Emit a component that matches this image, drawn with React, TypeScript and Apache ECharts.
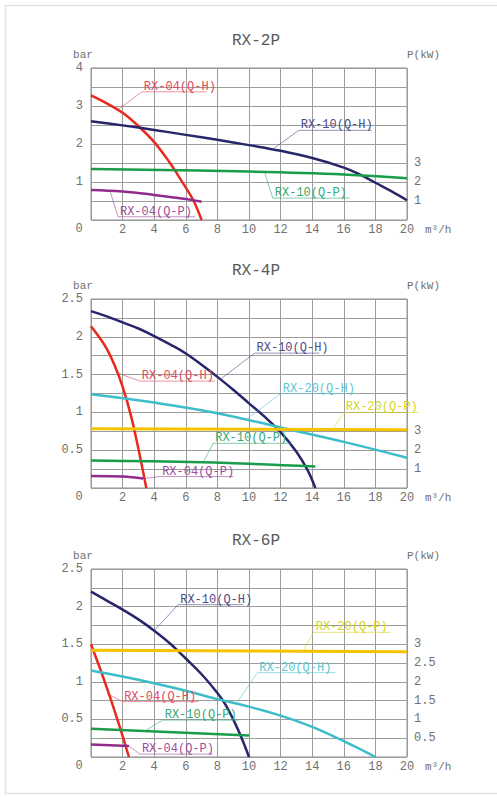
import React, { useEffect, useRef } from "react";
import * as echarts from "echarts";

// ---------- data (x = flow m³/h, Q-H in bar, Q-P in kW) ----------
const TITLES = ["RX-2P", "RX-4P", "RX-6P"];

// RX-2P
const p2_rx04_qh = [[0, 3.28], [1, 3.07], [2, 2.82], [3, 2.47], [4, 2.05], [5, 1.5], [5.5, 1.18], [6, 0.85], [6.5, 0.5], [7, 0]];
const p2_rx10_qh = [[0, 2.6], [2, 2.49], [4, 2.37], [6, 2.24], [8, 2.11], [10, 1.97], [12, 1.82], [14, 1.63], [16, 1.38], [17, 1.2], [18, 0.98], [19, 0.76], [20, 0.52]];
const p2_rx10_qp = [[0, 2.69], [10, 2.55], [16, 2.4], [20, 2.2]];
const p2_rx04_qp = [[0, 1.58], [2, 1.5], [4, 1.32], [6, 1.1], [7, 0.96]];

// RX-4P
const p4_rx10_qh = [[0, 2.34], [1, 2.27], [2, 2.19], [3, 2.11], [4, 2.01], [5, 1.9], [6, 1.78], [7, 1.63], [8, 1.47], [9, 1.3], [10, 1.12], [11, 0.94], [12, 0.74], [13, 0.48], [13.7, 0.24], [14.2, 0]];
const p4_rx04_qh = [[0, 2.14], [0.5, 2.0], [1, 1.84], [1.5, 1.62], [2, 1.34], [2.5, 0.98], [3, 0.52], [3.5, 0]];
const p4_rx20_qh = [[0, 1.24], [4, 1.13], [8, 0.99], [12, 0.8], [16, 0.61], [20, 0.4]];
const p4_rx20_qp = [[0, 3.14], [20, 3.08]];
const p4_rx10_qp = [[0, 1.46], [7, 1.36], [14.2, 1.14]];
const p4_rx04_qp = [[0, 0.64], [2, 0.61], [3.3, 0.5]];

// RX-6P
const p6_rx10_qh = [[0, 2.2], [1, 2.08], [2, 1.96], [3, 1.83], [4, 1.68], [5, 1.51], [6, 1.31], [7, 1.1], [8, 0.85], [8.5, 0.7], [9, 0.5], [9.5, 0.27], [10, 0]];
const p6_rx04_qh = [[0, 1.5], [0.6, 1.16], [1.2, 0.8], [1.85, 0.38], [2.4, 0]];
const p6_rx20_qh = [[0, 1.15], [2, 1.07], [4, 0.98], [6, 0.88], [8, 0.77], [10, 0.67], [12, 0.55], [14, 0.4], [16, 0.21], [18, 0]];
const p6_rx20_qp = [[0, 2.84], [20, 2.8]];
const p6_rx10_qp = [[0, 0.75], [10, 0.57]];
const p6_rx04_qp = [[0, 0.33], [2.4, 0.29]];

// axis ranges
const LEFT_MAX = [4, 2.5, 2.5];
const LEFT_STEP = [0.5, 0.25, 0.25];
const LEFT_LABEL_STEP = [1, 0.5, 0.5];
const RIGHT_MAX = [8, 10, 5];
const RIGHT_STEP = [1, 1, 0.5];
const RIGHT_LABEL_MAX = [3, 3, 3];
const RIGHT_LABEL_STEP = [1, 1, 0.5];

// ---------- styles ----------
const FONT = "'Liberation Mono', 'DejaVu Sans Mono', monospace";
const C = {
  red: "#e8291c",
  navy: "#28266a",
  green: "#1a9c4a",
  purple: "#912c8c",
  cyan: "#3cbdc9",
  yellow: "#f6c200",
};
const LC = {
  red: "#e2485c",
  navy: "#4c4a88",
  green: "#36a872",
  purple: "#a04c9e",
  cyan: "#5cc6d2",
  yellow: "#d6d424",
};
const GRIDS = [
  { top: 68, height: 152 },
  { top: 299, height: 189 },
  { top: 569, height: 188 },
];
const GRID_LEFT = 91;
const GRID_WIDTH = 316;

type S = { chart: number; right: boolean; data: number[][]; color: string; width?: number };
const SERIES: S[] = [
  { chart: 0, right: false, data: p2_rx04_qh, color: C.red },
  { chart: 0, right: false, data: p2_rx10_qh, color: C.navy },
  { chart: 0, right: true, data: p2_rx10_qp, color: C.green },
  { chart: 0, right: true, data: p2_rx04_qp, color: C.purple },
  { chart: 1, right: false, data: p4_rx10_qh, color: C.navy },
  { chart: 1, right: false, data: p4_rx04_qh, color: C.red },
  { chart: 1, right: false, data: p4_rx20_qh, color: C.cyan },
  { chart: 1, right: true, data: p4_rx20_qp, color: C.yellow, width: 3 },
  { chart: 1, right: true, data: p4_rx10_qp, color: C.green },
  { chart: 1, right: true, data: p4_rx04_qp, color: C.purple },
  { chart: 2, right: false, data: p6_rx10_qh, color: C.navy },
  { chart: 2, right: false, data: p6_rx04_qh, color: C.red },
  { chart: 2, right: false, data: p6_rx20_qh, color: C.cyan },
  { chart: 2, right: true, data: p6_rx20_qp, color: C.yellow, width: 3 },
  { chart: 2, right: true, data: p6_rx10_qp, color: C.green },
  { chart: 2, right: true, data: p6_rx04_qp, color: C.purple },
];

type Ann = { chart: number; text: string; color: string; at: number[]; right: boolean; dx: number; dy: number; len: number };
const ANNS: Ann[] = [
  { chart: 0, text: "RX-04(Q-H)", color: LC.red, at: [1.7, 2.9], right: false, dx: 24, dy: -18, len: 65 },
  { chart: 0, text: "RX-10(Q-H)", color: LC.navy, at: [11.5, 1.86], right: false, dx: 26, dy: -19, len: 73 },
  { chart: 0, text: "RX-10(Q-P)", color: LC.green, at: [11, 2.47], right: true, dx: 8, dy: 25, len: 77 },
  { chart: 0, text: "RX-04(Q-P)", color: LC.purple, at: [1.2, 1.54], right: true, dx: 8, dy: 26, len: 77 },
  { chart: 1, text: "RX-10(Q-H)", color: LC.navy, at: [8.2, 1.44], right: false, dx: 34, dy: -26, len: 65 },
  { chart: 1, text: "RX-04(Q-H)", color: LC.red, at: [1.7, 1.52], right: false, dx: 22, dy: 8, len: 75 },
  { chart: 1, text: "RX-20(Q-H)", color: LC.cyan, at: [9.8, 0.905], right: false, dx: 35, dy: -26, len: 73 },
  { chart: 1, text: "RX-20(Q-P)", color: LC.yellow, at: [15.3, 3.1], right: true, dx: 11, dy: -17, len: 75 },
  { chart: 1, text: "RX-10(Q-P)", color: LC.green, at: [7.1, 1.36], right: true, dx: 10, dy: -19, len: 79 },
  { chart: 1, text: "RX-04(Q-P)", color: LC.purple, at: [3.3, 0.5], right: true, dx: 17, dy: -2, len: 73 },
  { chart: 2, text: "RX-10(Q-H)", color: LC.navy, at: [4, 1.68], right: false, dx: 24, dy: -26, len: 65 },
  { chart: 2, text: "RX-20(Q-P)", color: LC.yellow, at: [13.4, 2.81], right: true, dx: 11, dy: -19, len: 77 },
  { chart: 2, text: "RX-20(Q-H)", color: LC.cyan, at: [9.2, 0.71], right: false, dx: 21, dy: -31, len: 78 },
  { chart: 2, text: "RX-04(Q-H)", color: LC.red, at: [1.15, 0.83], right: false, dx: 13, dy: 7, len: 76 },
  { chart: 2, text: "RX-10(Q-P)", color: LC.green, at: [3.4, 0.689], right: true, dx: 18, dy: -11, len: 76 },
  { chart: 2, text: "RX-04(Q-P)", color: LC.purple, at: [2.4, 0.29], right: true, dx: 11, dy: 8, len: 73 },
];

const LABEL_COLOR = "#707070";
const near = (v: number, step: number) => Math.abs(v / step - Math.round(v / step)) < 1e-6;

export default function App() {
  const ref = useRef<HTMLDivElement>(null);
  useEffect(() => {
    if (!ref.current) return;
    const chart = echarts.init(ref.current, undefined, { renderer: "svg" });

    const grid = GRIDS.map((g) => ({
      left: GRID_LEFT,
      width: GRID_WIDTH,
      top: g.top,
      height: g.height,
      show: true,
      borderColor: "#8e8e8e",
      borderWidth: 1,
      backgroundColor: "transparent",
    }));

    const title = TITLES.map((t, i) => ({
      text: t,
      left: 256,
      textAlign: "center",
      top: GRIDS[i].top - (i === 0 ? 35 : 36),
      padding: 0,
      textStyle: { fontFamily: FONT, fontSize: 16, fontWeight: "normal", color: "#5a5a5a" },
    }));

    const xAxis = GRIDS.map((_, i) => ({
      type: "value",
      gridIndex: i,
      min: 0,
      max: 20,
      interval: 2,
      axisLine: { show: false },
      axisTick: { show: false },
      splitLine: { show: true, lineStyle: { color: "#9c9c9c", width: 1 } },
      axisLabel: {
        margin: 4,
        fontFamily: FONT,
        fontSize: 12,
        color: LABEL_COLOR,
        formatter: (v: number) => (v === 0 ? "" : String(v)),
      },
      name: "m³/h",
      nameLocation: "end",
      nameGap: 18,
      nameTextStyle: {
        fontFamily: FONT,
        fontSize: 11,
        color: LABEL_COLOR,
        verticalAlign: "top",
        padding: [4, 0, 0, 0],
      },
    }));

    const yAxis: any[] = [];
    GRIDS.forEach((_, i) => {
      yAxis.push({
        type: "value",
        gridIndex: i,
        position: "left",
        min: 0,
        max: LEFT_MAX[i],
        interval: LEFT_STEP[i],
        axisLine: { show: false },
        axisTick: { show: false },
        splitLine: { show: true, lineStyle: { color: "#9c9c9c", width: 1 } },
        axisLabel: {
          margin: 8,
          fontFamily: FONT,
          fontSize: 12,
          color: LABEL_COLOR,
          formatter: (v: number) => (v > 0 && near(v, LEFT_LABEL_STEP[i]) ? String(v) : ""),
        },
        name: "bar",
        nameLocation: "end",
        nameGap: 8,
        nameTextStyle: { fontFamily: FONT, fontSize: 11, color: LABEL_COLOR, padding: [0, 16, 0, 0] },
      });
      yAxis.push({
        type: "value",
        gridIndex: i,
        position: "right",
        min: 0,
        max: RIGHT_MAX[i],
        interval: RIGHT_STEP[i],
        axisLine: { show: false },
        axisTick: { show: false },
        splitLine: { show: false },
        axisLabel: {
          margin: 7,
          fontFamily: FONT,
          fontSize: 12,
          color: LABEL_COLOR,
          formatter: (v: number) =>
            v > 0 && v <= RIGHT_LABEL_MAX[i] + 1e-9 && near(v, RIGHT_LABEL_STEP[i]) ? String(v) : "",
        },
        name: "P(kW)",
        nameLocation: "end",
        nameGap: 8,
        nameTextStyle: { fontFamily: FONT, fontSize: 11, color: LABEL_COLOR, align: "left" },
      });
    });

    const series = SERIES.map((s) => ({
      type: "line",
      xAxisIndex: s.chart,
      yAxisIndex: s.chart * 2 + (s.right ? 1 : 0),
      data: s.data,
      smooth: 0.4,
      showSymbol: false,
      symbol: "none",
      silent: true,
      lineStyle: { color: s.color, width: s.width ?? 2.5 },
      z: 3,
    }));

    chart.setOption({
      animation: false,
      backgroundColor: "#ffffff",
      title,
      grid,
      xAxis,
      yAxis,
      series,
    });

    const graphics: any[] = [
      {
        type: "rect",
        shape: { x: 5.5, y: 5.5, width: 495, height: 788 },
        style: { fill: "none", stroke: "#e2e2e2", lineWidth: 1.5 },
        silent: true,
        z: 0,
      },
    ];
    GRIDS.forEach((_, i) => {
      const p = chart.convertToPixel({ xAxisIndex: i, yAxisIndex: i * 2 }, [0, 0]) as number[];
      graphics.push({
        type: "text",
        x: p[0] - 12,
        y: p[1] + 9,
        style: {
          text: "0",
          font: `12px ${FONT}`,
          fill: LABEL_COLOR,
          align: "center",
          verticalAlign: "middle",
        },
        silent: true,
      });
    });
    ANNS.forEach((a) => {
      const p = chart.convertToPixel(
        { xAxisIndex: a.chart, yAxisIndex: a.chart * 2 + (a.right ? 1 : 0) },
        a.at
      ) as number[];
      const ex = p[0] + a.dx;
      const ey = p[1] + a.dy;
      graphics.push({
        type: "polyline",
        shape: { points: [[p[0], p[1]], [ex, ey], [ex + a.len, ey]] },
        style: { stroke: a.color, lineWidth: 0.8, fill: "none", opacity: 0.75 },
        silent: true,
        z: 5,
      });
      graphics.push({
        type: "text",
        x: ex + 2,
        y: ey + 1,
        style: {
          text: a.text,
          font: `12px ${FONT}`,
          fill: a.color,
          align: "left",
          verticalAlign: "bottom",
        },
        silent: true,
        z: 6,
      });
    });
    chart.setOption({ graphic: graphics });

    return () => chart.dispose();
  }, []);

  return (
    <div
      ref={ref}
      style={{ position: "absolute", left: 0, top: 0, width: 497, height: 797, background: "#fff" }}
    />
  );
}
